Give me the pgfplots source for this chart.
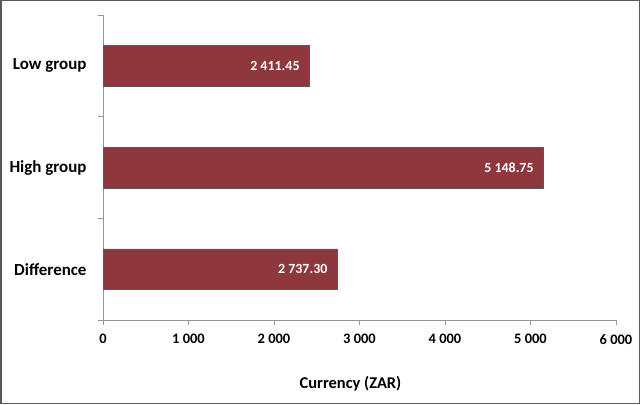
\documentclass[border=0pt]{standalone}
\usepackage{pgfplots}
\pgfplotsset{compat=1.18}
\usepackage{fontspec}
\setmainfont{Carlito}
\definecolor{barred}{RGB}{142,56,62}
\definecolor{axisgray}{RGB}{150,150,150}
\definecolor{framegray}{RGB}{90,90,90}
\begin{document}
\begin{tikzpicture}[x=1bp,y=1bp]
\useasboundingbox (0,0) rectangle (640,404);
\draw[framegray, line width=1.5bp] (0.75,0.75) rectangle (639.25,403.25);
\begin{axis}[
  at={(103bp,84bp)}, anchor=south west,
  scale only axis, width=513bp, height=305bp,
  xmin=0, xmax=6000, ymin=-0.5, ymax=2.5,
  axis lines*=left,
  axis line style={draw=axisgray, line width=0.8bp, -},
  xtick={0,1000,2000,3000,4000,5000,6000},
  ytick={0,1,2},
  yticklabels={Difference, High group, Low group},
  minor ytick={-0.5,0.5,1.5,2.5},
  tick align=outside,
  major tick length=5bp, minor tick length=5bp,
  major x tick style={draw=axisgray, line width=0.8bp},
  major y tick style={draw=none},
  minor y tick style={draw=axisgray, line width=0.8bp},
  /pgf/number format/assume math mode=true,
  /pgf/number format/1000 sep={\ },
  xticklabel style={font=\bfseries\fontsize{14.5}{17}\selectfont, yshift=-6bp},
  yticklabel style={font=\bfseries\fontsize{17}{20}\selectfont, xshift=-8bp},
  xlabel={Currency (ZAR)},
  xlabel style={font=\bfseries\fontsize{16.5}{19}\selectfont, yshift=-25bp, xshift=-9bp},
  xbar, bar width=0.4,
  nodes near coords={\pgfmathprintnumber[fixed,fixed zerofill,precision=2,1000 sep={\ }]{\pgfplotspointmeta}},
  point meta=x,
  nodes near coords style={anchor=east, xshift=-6bp, text=white, font=\bfseries\fontsize{14}{17}\selectfont},
]
\addplot[fill=barred, draw=black!65, line width=0.6bp] coordinates {
  (2737.30,0) (5148.75,1) (2411.45,2)
};
\end{axis}
\end{tikzpicture}
\end{document}
